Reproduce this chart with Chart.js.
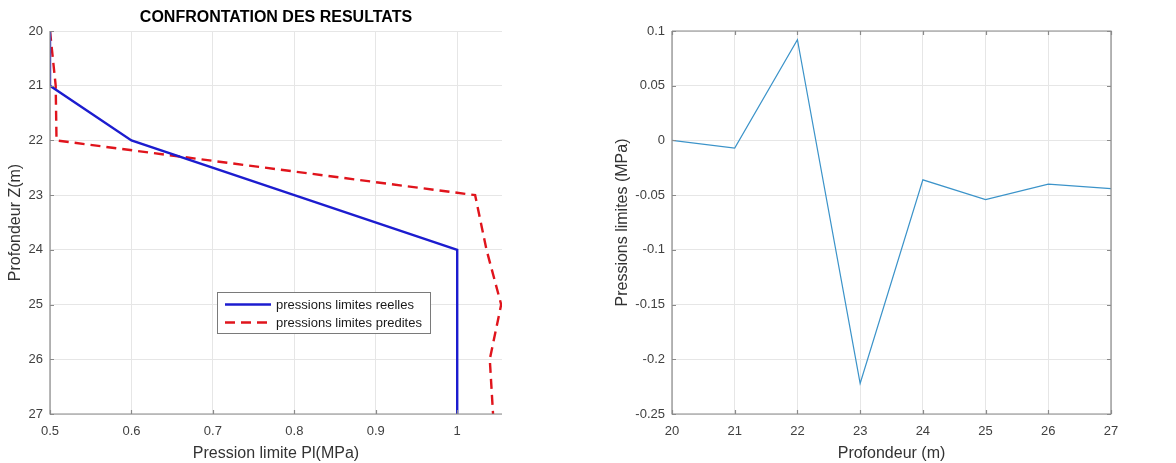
<!DOCTYPE html>
<html>
<head>
<meta charset="utf-8">
<script src="https://cdn.jsdelivr.net/npm/chart.js@4.4.1/dist/chart.umd.min.js"></script>
<style>
  html, body { margin: 0; padding: 0; background: #fff; }
  #wrap { position: relative; width: 1176px; height: 463px; overflow: hidden; }
  #c1 { position: absolute; left: 0; top: 0; }
  #c2 { position: absolute; left: 580px; top: 0; }
</style>
</head>
<body>
<div id="wrap">
  <canvas id="c1" width="560" height="463"></canvas>
  <canvas id="c2" width="596" height="463"></canvas>
</div>
<script>
// ---- Data ----
const depths = [20, 21, 22, 23, 24, 25, 26, 27];
const pressionsReelles = [0.5, 0.5, 0.6, 0.8, 1.0, 1.0, 1.0, 1.0];
const pressionsPredites = [0.5, 0.507, 0.508, 1.022, 1.036, 1.054, 1.040, 1.044];
const erreur = [0.0, -0.007, 0.092, -0.222, -0.036, -0.054, -0.040, -0.044];
const xTicksLeft = [0.5, 0.6, 0.7, 0.8, 0.9, 1.0];
const yTicksRight = [0.1, 0.05, 0, -0.05, -0.1, -0.15, -0.2, -0.25];

const FONT = "'Liberation Sans', Arial, Helvetica, sans-serif";
const AXIS_COLOR = '#8a8a8a';
const TICK_TEXT = '#404040';
const GRID = '#e6e6e6';

Chart.defaults.font.family = FONT;
Chart.defaults.animation = false;

function fmt(v) { return String(Number(v.toFixed(3))); }

// Plugin: axes box, inner ticks, legend, title
function axesPlugin(opts) {
  return {
    id: 'axesBox_' + opts.name,
    afterDatasetsDraw(chart) {
      const ctx = chart.ctx;
      const a = chart.chartArea;
      const xs = chart.scales.x, ys = chart.scales.y;
      ctx.save();
      ctx.strokeStyle = AXIS_COLOR;
      ctx.lineWidth = 1.2;
      ctx.beginPath();
      ctx.moveTo(a.left, a.top); ctx.lineTo(a.left, a.bottom); ctx.lineTo(a.right, a.bottom);
      if (opts.box) { ctx.lineTo(a.right, a.top); ctx.lineTo(a.left, a.top); }
      ctx.stroke();
      const tl = 4;
      ctx.beginPath();
      xs.ticks.forEach(t => {
        const px = Math.round(xs.getPixelForValue(t.value)) + 0.5;
        ctx.moveTo(px, a.bottom); ctx.lineTo(px, a.bottom - tl);
        if (opts.box) { ctx.moveTo(px, a.top); ctx.lineTo(px, a.top + tl); }
      });
      ys.ticks.forEach(t => {
        const py = Math.round(ys.getPixelForValue(t.value)) + 0.5;
        ctx.moveTo(a.left, py); ctx.lineTo(a.left + tl, py);
        if (opts.box) { ctx.moveTo(a.right, py); ctx.lineTo(a.right - tl, py); }
      });
      ctx.stroke();

      if (opts.title) {
        ctx.fillStyle = '#000';
        ctx.font = 'bold 16px ' + FONT;
        ctx.textAlign = 'center';
        ctx.textBaseline = 'middle';
        ctx.fillText(opts.title, (a.left + a.right) / 2, 17.5);
      }

      const L = opts.legend;
      ctx.fillStyle = '#fff';
      ctx.fillRect(L.x, L.y, L.w, L.h);
      ctx.strokeStyle = '#7a7a7a';
      ctx.lineWidth = 1;
      ctx.strokeRect(L.x + 0.5, L.y + 0.5, L.w, L.h);
      ctx.font = '13px ' + FONT;
      ctx.textAlign = 'left';
      ctx.textBaseline = 'middle';
      L.items.forEach((it, i) => {
        const ds = chart.data.datasets[i];
        const cy = L.y + L.rowStart + i * L.rowGap;
        ctx.save();
        ctx.strokeStyle = ds.borderColor;
        ctx.lineWidth = ds.borderWidth;
        ctx.setLineDash(ds.borderDash || []);
        ctx.beginPath();
        ctx.moveTo(L.x + L.lineX0, cy); ctx.lineTo(L.x + L.lineX1, cy);
        ctx.stroke();
        ctx.restore();
        ctx.fillStyle = '#1a1a1a';
        ctx.fillText(ds.label, L.x + L.textX, cy + 0.5);
      });
      ctx.restore();
    }
  };
}

// ---------- Left chart ----------
new Chart(document.getElementById('c1'), {
  type: 'line',
  data: {
    datasets: [
      {
        label: 'pressions limites reelles',
        data: depths.map((d, i) => ({ x: pressionsReelles[i], y: d })),
        borderColor: '#1c1ccf',
        borderWidth: 2.4,
        pointRadius: 0,
        fill: false,
        tension: 0
      },
      {
        label: 'pressions limites predites',
        data: depths.map((d, i) => ({ x: pressionsPredites[i], y: d })),
        borderColor: '#e0141c',
        borderWidth: 2.4,
        borderDash: [10, 6],
        pointRadius: 0,
        fill: false,
        tension: 0
      }
    ]
  },
  options: {
    responsive: false,
    animation: false,
    layout: { padding: { top: 31, right: 58, bottom: 0, left: 0 } },
    plugins: { legend: { display: false }, title: { display: false }, tooltip: { enabled: false } },
    scales: {
      x: {
        type: 'linear',
        min: 0.5, max: 1.055,
        afterFit(s) { s.height = 49; },
        afterBuildTicks(s) { s.ticks = xTicksLeft.map(v => ({ value: v })); },
        ticks: { includeBounds: false, padding: 10, color: TICK_TEXT, font: { size: 13 }, maxRotation: 0, autoSkip: false, callback: v => fmt(v) },
        grid: { color: GRID, lineWidth: 1, drawTicks: false },
        border: { display: false },
        title: { display: true, text: 'Pression limite Pl(MPa)', color: '#333', font: { size: 16 }, padding: { top: 0, bottom: 0 } }
      },
      y: {
        type: 'linear',
        reverse: true,
        min: 20, max: 27,
        afterFit(s) { s.width = 50; },
        afterBuildTicks(s) { s.ticks = depths.map(v => ({ value: v })); },
        ticks: { padding: 7, color: TICK_TEXT, font: { size: 13 }, autoSkip: false, callback: v => fmt(v) },
        grid: { color: GRID, lineWidth: 1, drawTicks: false },
        border: { display: false },
        title: { display: true, text: 'Profondeur Z(m)', color: '#333', font: { size: 16 }, padding: { top: 6, bottom: 0 } }
      }
    }
  },
  plugins: [axesPlugin({
    name: 'left', box: false, title: 'CONFRONTATION DES RESULTATS',
    legend: { x: 217, y: 292, w: 213, h: 41, rowStart: 12.5, rowGap: 18, lineX0: 8, lineX1: 54, textX: 59,
              items: [0, 1] }
  })]
});

// ---------- Right chart ----------
new Chart(document.getElementById('c2'), {
  type: 'line',
  data: {
    datasets: [
      {
        label: 'Erreur de reconnaissance',
        data: depths.map((d, i) => ({ x: d, y: erreur[i] })),
        borderColor: '#3b93c9',
        borderWidth: 1.2,
        pointRadius: 0,
        fill: false,
        tension: 0
      }
    ]
  },
  options: {
    responsive: false,
    animation: false,
    layout: { padding: { top: 31, right: 65, bottom: 0, left: 0 } },
    plugins: { legend: { display: false }, title: { display: false }, tooltip: { enabled: false } },
    scales: {
      x: {
        type: 'linear',
        min: 20, max: 27,
        afterFit(s) { s.height = 49; },
        afterBuildTicks(s) { s.ticks = depths.map(v => ({ value: v })); },
        ticks: { padding: 10, color: TICK_TEXT, font: { size: 13 }, maxRotation: 0, autoSkip: false, callback: v => fmt(v) },
        grid: { color: GRID, lineWidth: 1, drawTicks: false },
        border: { display: false },
        title: { display: true, text: 'Profondeur (m)', color: '#333', font: { size: 16 }, padding: { top: 0, bottom: 0 } }
      },
      y: {
        type: 'linear',
        min: -0.25, max: 0.1,
        afterFit(s) { s.width = 92; },
        afterBuildTicks(s) { s.ticks = yTicksRight.map(v => ({ value: v })); },
        ticks: { padding: 7, color: TICK_TEXT, font: { size: 13 }, autoSkip: false, callback: v => fmt(v) },
        grid: { color: GRID, lineWidth: 1, drawTicks: false },
        border: { display: false },
        title: { display: true, text: 'Pressions limites (MPa)', color: '#333', font: { size: 16 }, padding: { top: 33, bottom: 0 } }
      }
    }
  },
  plugins: [axesPlugin({
    name: 'right', box: true, title: null,
    legend: { x: 901, y: 46, w: 198, h: 25, rowStart: 12.5, rowGap: 18, lineX0: 9, lineX1: 49, textX: 54,
              items: [0] }
  })]
});
</script>
</body>
</html>
